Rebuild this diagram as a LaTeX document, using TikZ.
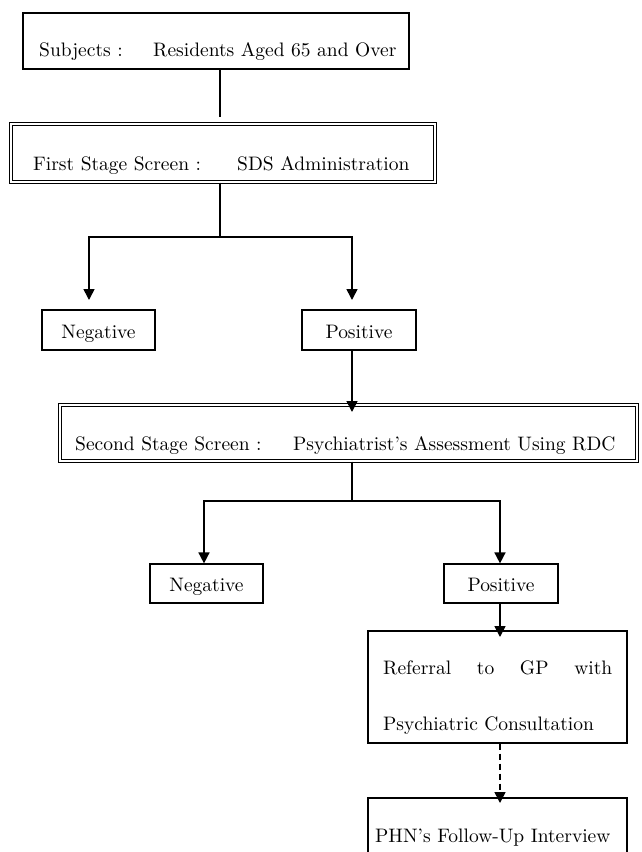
\documentclass[tikz,border=0pt]{standalone}
\usepackage{fontspec}
\setmainfont{lmroman10-regular}[Extension=.otf]
\usetikzlibrary{arrows.meta}
\begin{document}
\begin{tikzpicture}[x=1pt,y=-1pt,
  every node/.style={font=\fontsize{19.5}{23}\selectfont, inner sep=0pt},
  box/.style={draw, line width=1.2pt, rectangle},
  sbox/.style={box, text height=16pt, text depth=0pt},
  dbox/.style={draw, double, double distance=1.8pt, line width=1.3pt, rectangle},
  txt/.style={anchor=base west},
  conn/.style={line width=1.6pt},
  arr/.style={conn, -{Triangle[width=11pt,length=11pt]}},
  darr/.style={arr, dash pattern=on 6pt off 4pt}]
\useasboundingbox (0,0) rectangle (641,852);

% boxes
\node[box, minimum width=386pt, minimum height=56pt] (subj) at (216,41) {};
\node[txt] (subjt) at (39,56) {\makebox[114pt][l]{Subjects :}Residents Aged 65 and Over};

\node[dbox, minimum width=424pt, minimum height=58pt] (fs) at (223,153) {};
\node[txt] (fst) at (33,170) {\makebox[204pt][l]{First Stage Screen :}SDS Administration};

\node[sbox, minimum width=113pt, minimum height=40pt] (neg1) at (98.5,330) {Negative};
\node[sbox, minimum width=114pt, minimum height=40pt] (pos1) at (359,330) {Positive};

\node[dbox, minimum width=577pt, minimum height=56pt] (ss) at (348.5,433) {};
\node[txt] (sst) at (75,450) {\makebox[218pt][l]{Second Stage Screen :}Psychiatrist's Assessment Using RDC};

\node[sbox, minimum width=113pt, minimum height=39pt] (neg2) at (206.5,583.5) {Negative};
\node[sbox, minimum width=114pt, minimum height=39pt] (pos2) at (501,583.5) {Positive};

\node[box, minimum width=259pt, minimum height=112pt] (refb) at (497.5,687) {};
\node[txt] (ref1) at (383,674) {\makebox[229pt][s]{Referral\hfill to\hfill GP\hfill with}};
\node[txt] (ref2) at (383,730) {Psychiatric Consultation};

\node[box, minimum width=259pt, minimum height=70pt] (phn) at (497.5,833) {};
\node[txt] (phnt) at (375,842) {PHN's Follow-Up Interview};

% coordinates
\coordinate (a0e) at (220,117);
\coordinate (j1) at (220,237);
\coordinate (l1) at (89,237);
\coordinate (r1) at (352,237);
\coordinate (l1e) at (89,300);
\coordinate (r1e) at (352,300);
\coordinate (p1e) at (352,412);
\coordinate (j2) at (352,501);
\coordinate (l2) at (204,501);
\coordinate (r2) at (500,501);
\coordinate (p2e) at (500,637);
\coordinate (de) at (500,803);

% connectors
\draw[conn] (subj.south -| a0e) -- (a0e);
\draw[conn] (fs.south -| j1) -- (j1);
\draw[arr] (j1) -- (l1) -- (l1e);
\draw[arr] (j1) -- (r1) -- (r1e);
\draw[arr] (pos1.south -| p1e) -- (p1e);
\draw[conn] (ss.south -| j2) -- (j2);
\draw[arr] (j2) -- (l2) -- (neg2.north -| l2);
\draw[arr] (j2) -- (r2) -- (pos2.north -| r2);
\draw[arr] (pos2.south -| p2e) -- (p2e);
\draw[darr] (refb.south -| de) -- (de);
\end{tikzpicture}
\end{document}
